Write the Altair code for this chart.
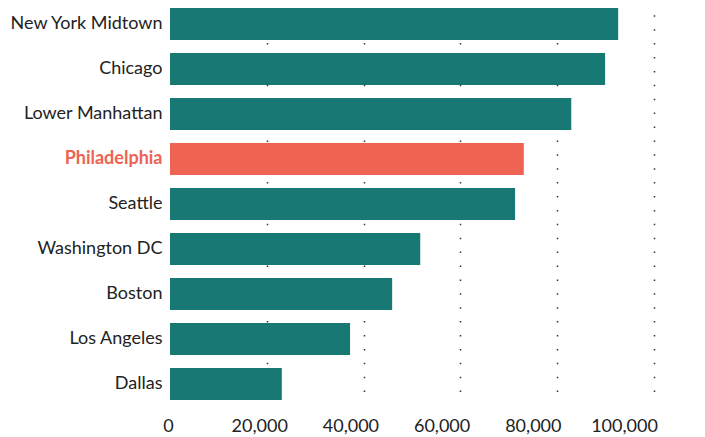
import altair as alt
import pandas as pd

cities = ["New York Midtown", "Chicago", "Lower Manhattan", "Philadelphia", "Seattle",
          "Washington DC", "Boston", "Los Angeles", "Dallas"]
values = [92600, 89900, 82900, 73100, 71300, 51700, 45900, 37200, 23100]
highlight = "Philadelphia"
tick_values = [0, 20000, 40000, 60000, 80000, 100000]

TEAL = "#187873"
CORAL = "#EE6352"
FONT = "Lato"

df = pd.DataFrame({"city": cities, "value": values})

chart = alt.Chart(df).mark_bar().encode(
    x=alt.X(
        "value:Q",
        scale=alt.Scale(domain=[0, 100000], nice=False),
        axis=alt.Axis(
            values=tick_values, format=",.0f", title=None, domain=False, ticks=False,
            grid=True, gridDash=[1.5, 12.4], gridDashOffset=5.5,
            gridColor="#333", gridWidth=1.5,
            gridOpacity=alt.ExprRef("datum.value == 0 ? 0 : 1"),
            labelFlush=False,
            labelOffset=alt.ExprRef("-2 - datum.value * 0.00028"),
            labelFont=FONT, labelFontSize=18, labelColor="#222", labelPadding=17,
        ),
    ),
    y=alt.Y(
        "city:N", sort=cities,
        scale=alt.Scale(paddingInner=0.289, paddingOuter=0),
        axis=alt.Axis(
            title=None, domain=False, ticks=False, labelPadding=8,
            labelFont=FONT, labelFontSize=18,
            labelColor=alt.ExprRef(f"datum.value == '{highlight}' ? '{CORAL}' : '#222'"),
            labelFontWeight=alt.ExprRef(f"datum.value == '{highlight}' ? 'bold' : 'normal'"),
        ),
    ),
    color=alt.condition(alt.datum.city == highlight, alt.value(CORAL), alt.value(TEAL)),
).properties(
    width=484, height=392,
    padding={"top": 0, "left": 162, "right": 43, "bottom": 40},
    autosize="none",
).configure_view(stroke=None)

chart.save("out.html", embed_options={"renderer": "svg", "actions": False})
